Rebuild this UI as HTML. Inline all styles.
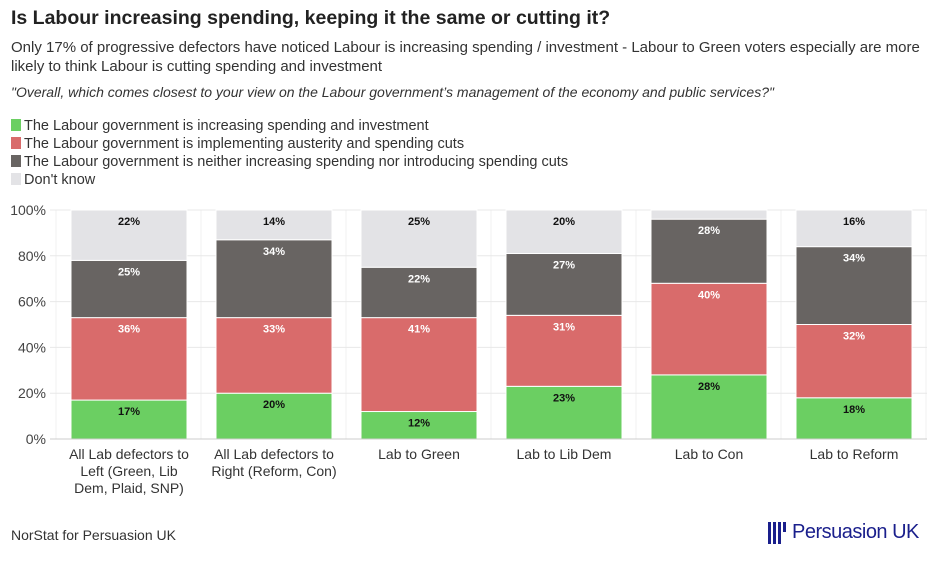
<!DOCTYPE html>
<html><head><meta charset="utf-8"><style>
body{margin:0;width:940px;height:575px;background:#fff;font-family:"Liberation Sans",sans-serif;color:#222;position:relative;overflow:hidden}
.t{position:absolute;left:11px;top:7px;font-size:19.5px;font-weight:bold;color:#222}
.s{position:absolute;left:11px;top:38px;font-size:15px;line-height:19px;width:920px;color:#333}
.q{position:absolute;left:11px;top:84px;font-size:14px;font-style:italic;color:#333}
.lg{position:absolute;left:11px;font-size:14.5px;color:#333;height:18px;line-height:18px}
.lg i{display:inline-block;width:10px;height:12px;margin-right:3px;vertical-align:-1px}
.src{position:absolute;left:11px;top:527px;font-size:14px;color:#333}
</style></head><body>
<div class="t">Is Labour increasing spending, keeping it the same or cutting it?</div>
<div class="s">Only 17% of progressive defectors have noticed Labour is increasing spending / investment - Labour to Green voters especially are more likely to think Labour is cutting spending and investment</div>
<div class="q">"Overall, which comes closest to your view on the Labour government’s management of the economy and public services?"</div>
<div class="lg" style="top:117px"><i style="background:#6bcf62"></i>The Labour government is increasing spending and investment</div>
<div class="lg" style="top:135px"><i style="background:#d96b6b"></i>The Labour government is implementing austerity and spending cuts</div>
<div class="lg" style="top:153px"><i style="background:#686462"></i>The Labour government is neither increasing spending nor introducing spending cuts</div>
<div class="lg" style="top:171px"><i style="background:#e3e3e6"></i>Don't know</div>
<svg id="c" width="940" height="575" style="position:absolute;left:0;top:0"></svg>
<div class="src">NorStat for Persuasion UK</div>
<div style="position:absolute;left:768px;top:521px;display:flex;align-items:center">
<svg width="20" height="22"><rect x="0" y="0" width="3" height="22" fill="#1a1f8c"/><rect x="5" y="0" width="3" height="22" fill="#1a1f8c"/><rect x="10" y="0" width="3" height="22" fill="#1a1f8c"/><rect x="15" y="0" width="3" height="10" fill="#1a1f8c"/></svg>
<span style="font-size:20px;color:#1a1f8c;margin-left:4px;letter-spacing:-0.5px">Persuasion UK</span></div>
<script>
const categories=[["All Lab defectors to","Left (Green, Lib","Dem, Plaid, SNP)"],["All Lab defectors to","Right (Reform, Con)"],["Lab to Green"],["Lab to Lib Dem"],["Lab to Con"],["Lab to Reform"]];
const increasing=[17,20,12,23,28,18];
const austerity=[36,33,41,31,40,32];
const neither=[25,34,22,27,28,34];
const dontKnow=[22,14,25,20,4,16];
const yTicks=[0,20,40,60,80,100];
const series=[{v:increasing,c:"#6bcf62",t:"#111",n:"increasing"},{v:austerity,c:"#d96b6b",t:"#fff",n:"austerity"},{v:neither,c:"#686462",t:"#fff",n:"neither"},{v:dontKnow,c:"#e3e3e6",t:"#111",n:"dont-know"}];
const svg=document.getElementById('c');const NS="http://www.w3.org/2000/svg";
const y0=439,y1=210,x0=56,pitch=145,bw=116,bx=71;
const Y=v=>y0-(Math.min(v,100)/100)*(y0-y1);
const X=i=>bx+i*pitch;
function mk(tag,a,txt){const e=document.createElementNS(NS,tag);for(const k in a)e.setAttribute(k,a[k]);if(txt!=null)e.textContent=txt;svg.appendChild(e);return e;}
for(let i=0;i<=categories.length;i++){mk('line',{x1:x0+i*pitch,x2:x0+i*pitch,y1:y1,y2:y0,stroke:'#f2f2f2'});}
yTicks.forEach(t=>{const l=mk('line',{x1:50,x2:927,y1:Y(t),y2:Y(t),stroke:'#e8e8e8'});

const tx=mk('text',{x:46,y:Y(t)+5,'text-anchor':'end','font-size':14,fill:'#444'},t+'%');
});
categories.forEach((cat,i)=>{let cum=0;
series.forEach(s=>{const v=s.v[i];const top=Y(cum+v),bot=Y(cum);
const r=mk('rect',{x:X(i),y:top,width:bw,height:Math.max(0,bot-top),fill:s.c,stroke:'#fff','stroke-width':1});

if(v>=8){const tx=mk('text',{x:X(i)+bw/2,y:top+15,'text-anchor':'middle','font-size':11,'font-weight':'bold',fill:s.t},v+'%');
}
cum+=v;});
const lab=mk('text',{x:X(i)+bw/2,y:459,'text-anchor':'middle','font-size':14,fill:'#333'});

cat.forEach((ln,j)=>{const ts=document.createElementNS(NS,'tspan');ts.setAttribute('x',X(i)+bw/2);ts.setAttribute('dy',j?17:0);ts.textContent=ln;lab.appendChild(ts);});
});
mk('line',{x1:50,x2:927,y1:y0,y2:y0,stroke:'#ccc'});
</script>
</body></html>
